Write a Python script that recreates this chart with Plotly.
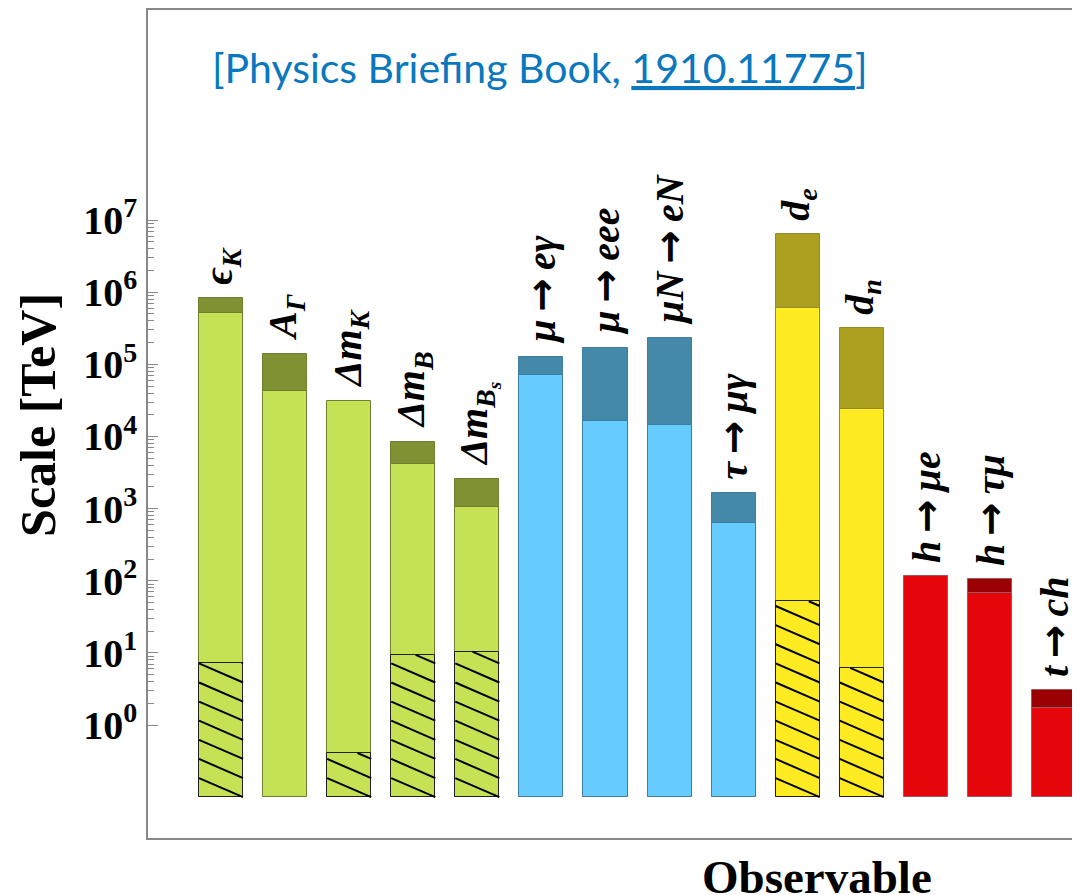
import math
import plotly.graph_objects as go

# ---------------- data ----------------
ARROW = "\u2009<span style='font-family:DejaVu Sans'>→</span>\u2009"
observables = ["ϵ<sub>K</sub>", "A<sub>Γ</sub>", "Δm<sub>K</sub>", "Δm<sub>B</sub>",
               "Δm<sub>B<sub>s</sub></sub>", "μ" + ARROW + "eγ", "μ" + ARROW + "eee",
               "μN" + ARROW + "eN", "τ" + ARROW + "μγ",
               "d<sub>e</sub>", "d<sub>n</sub>", "h" + ARROW + "μe", "h" + ARROW + "τμ",
               "t" + ARROW + "ch"]
sector = ["quark", "quark", "quark", "quark", "quark",
          "lepton", "lepton", "lepton", "lepton",
          "edm", "edm", "higgs", "higgs", "higgs"]
present_scale = [5.2e5, 4.2e4, 3.1e4, 4.15e3, 1.04e3,
                 7.1e4, 1.65e4, 1.44e4, 637,
                 6.1e5, 2.4e4, 116, 68, 1.74]
future_scale = [8.4e5, 1.4e5, None, 8.5e3, 2.55e3,
                1.27e5, 1.7e5, 2.34e5, 1.66e3,
                6.4e6, 3.2e5, None, 105, 3.1]
loop_suppressed_scale = [7.3, None, 0.41, 9.4, 10.4,
                         None, None, None, None,
                         52, 6.2, None, None, None]
bar_floor = 0.1
major_exponents = [0, 1, 2, 3, 4, 5, 6, 7]
minor_digits = [2, 3, 4, 5, 6, 7, 8, 9]

# ---------------- styles ----------------
light_col = {"quark": "#C4E254", "lepton": "#66CCFF", "edm": "#FFEB22", "higgs": "#E5060C"}
dark_col = {"quark": "#7E9234", "lepton": "#4488AA", "edm": "#ACA020", "higgs": "#9B0005"}
edge_col = {"quark": "#6E8030", "lepton": "#3F7E9E", "edm": "#948A30", "higgs": "#9A5A5A"}
BAR_W = 0.6875
SERIF = "Liberation Serif"
HATCH_STEP = 0.265  # decades

xs = [i + 1 for i in range(len(observables))]

fig = go.Figure()

# present-bound bars
fig.add_trace(go.Bar(
    x=xs, y=[v - bar_floor for v in present_scale], base=[bar_floor] * len(xs),
    width=BAR_W,
    marker=dict(color=[light_col[s] for s in sector],
                line=dict(color=[edge_col[s] for s in sector], width=1)),
    showlegend=False, hoverinfo="skip"))

# future-reach bars
fx, fy, fb, fc, fe = [], [], [], [], []
for x, lo, hi, s in zip(xs, present_scale, future_scale, sector):
    if hi is not None:
        fx.append(x); fy.append(hi - lo); fb.append(lo)
        fc.append(dark_col[s]); fe.append(edge_col[s])
fig.add_trace(go.Bar(
    x=fx, y=fy, base=fb, width=BAR_W,
    marker=dict(color=fc, line=dict(color=fe, width=1)),
    showlegend=False, hoverinfo="skip"))

# hatched (loop-suppressed) region outlines
hx, hy = [], []
for x, h in zip(xs, loop_suppressed_scale):
    if h is not None:
        hx.append(x); hy.append(h - bar_floor)
fig.add_trace(go.Bar(
    x=hx, y=hy, base=[bar_floor] * len(hx), width=BAR_W,
    marker=dict(color="rgba(0,0,0,0)", line=dict(color="#222222", width=1)),
    showlegend=False, hoverinfo="skip"))

# hatch lines
lx, ly = [], []
L0 = math.log10(bar_floor)
for x, h in zip(xs, loop_suppressed_scale):
    if h is None:
        continue
    T = math.log10(h)
    xl, xr = x - BAR_W / 2, x + BAR_W / 2
    k = 0
    while True:
        r = L0 + k * HATCH_STEP
        if r >= T:
            break
        l = r + HATCH_STEP
        if l <= T:
            lx += [xl, xr, None]; ly += [10 ** l, 10 ** r, None]
        else:
            f = (T - r) / HATCH_STEP
            lx += [xr - f * BAR_W, xr, None]; ly += [10 ** T, 10 ** r, None]
        k += 1
fig.add_trace(go.Scatter(x=lx, y=ly, mode="lines",
                         line=dict(color="black", width=2),
                         showlegend=False, hoverinfo="skip", cliponaxis=True))

# observable labels
annotations = []
for x, lab, lo, hi in zip(xs, observables, present_scale, future_scale):
    top = hi if hi is not None else lo
    annotations.append(dict(
        x=x, y=math.log10(top), xref="x", yref="y",
        text="<b><i>" + lab + "</i></b>", textangle=-90,
        xanchor="center", yanchor="bottom", yshift=11, showarrow=False,
        font=dict(family=SERIF, size=40, color="black")))

annotations.append(dict(
    x=-0.118, y=0.511, xref="paper", yref="paper", text="<b>Scale [TeV]</b>",
    textangle=-90, showarrow=False, xanchor="center", yanchor="middle",
    font=dict(family=SERIF, size=50, color="black")))
annotations.append(dict(
    x=0.718, y=-0.047, xref="paper", yref="paper", text="<b>Observable</b>",
    showarrow=False, xanchor="center", yanchor="middle",
    font=dict(family=SERIF, size=47, color="black")))
annotations.append(dict(
    x=0.4206, y=0.93, xref="paper", yref="paper",
    text="[Physics Briefing Book, <u>1910.11775</u>]",
    showarrow=False, xanchor="center", yanchor="middle",
    font=dict(family="Lato", size=41, color="#0A78BE")))

tickvals = [10 ** e for e in major_exponents]
ticktext = ["<b>10<sup>%d</sup></b>" % e for e in major_exponents]
minor_vals = [d * 10 ** e for e in major_exponents[:-1] for d in minor_digits]

# the page has an 8px body margin: figure is 1072x887 so the plot frame lands
# at the reference's pixel positions
fig.update_layout(
    width=1072, height=887,
    margin=dict(l=140, r=0, t=2, b=57),
    paper_bgcolor="white", plot_bgcolor="white",
    barmode="overlay", bargap=0,
    annotations=annotations,
    xaxis=dict(range=[-0.14, 14.406], showgrid=False, zeroline=False,
               showticklabels=False, ticks="", showline=True,
               linecolor="#888888", linewidth=1.5, mirror=True),
    yaxis=dict(type="log", range=[-1.566, 9.911], showgrid=False, zeroline=False,
               showline=True, linecolor="#888888", linewidth=1.5, mirror=False,
               tickmode="array", tickvals=tickvals, ticktext=ticktext,
               ticks="inside", ticklen=10, tickcolor="#888888", tickwidth=1,
               ticklabelstandoff=1,
               tickfont=dict(family=SERIF, size=40, color="black"),
               minor=dict(tickmode="array", tickvals=minor_vals, ticks="inside",
                          ticklen=6, tickcolor="#888888", tickwidth=1, showgrid=False)),
)

fig.write_html("out.html")
